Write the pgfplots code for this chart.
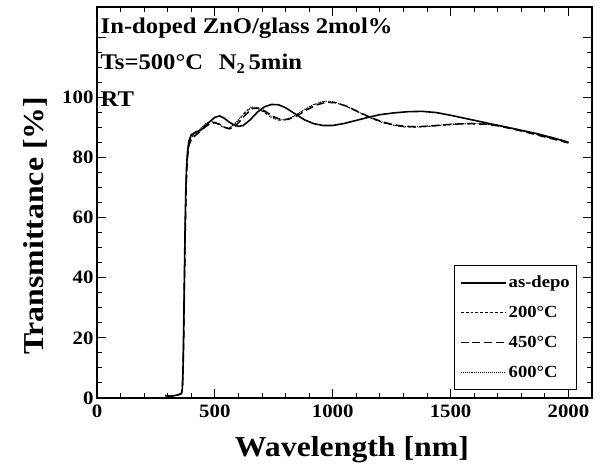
\documentclass[border=0pt]{standalone}
\usepackage{pgfplots}
\pgfplotsset{compat=1.18}
\usepackage{fontspec}
\setmainfont{Liberation Serif}[FakeStretch=1.1]
\begin{document}
\begin{tikzpicture}
\begin{axis}[
  at={(0,0)}, anchor=south west,
  scale only axis, width=495bp, height=391bp,
  xmin=0, xmax=2100, ymin=0, ymax=130,
  xtick={0,500,1000,1500,2000},
  minor x tick num=4,
  ytick={0,20,40,60,80,100,120},
  yticklabels={0,20,40,60,80,100,{}},
  minor y tick num=3,
  tick align=inside,
  major tick length=9bp, minor tick length=5bp,
  axis line style={line width=1.2pt},
  every tick/.style={line width=1pt, black},
  /pgf/number format/assume math mode=true,
  /pgf/number format/set thousands separator={},
  tick label style={font=\bfseries\fontsize{19}{19}\selectfont},
  xticklabel style={yshift=-3bp},
  xlabel={\bfseries\fontsize{29}{29}\selectfont Wavelength [nm]},
  ylabel={\bfseries\fontsize{29}{29}\selectfont Transmittance [\%]},
  xlabel style={at={(rel axis cs:0.515,0)}, anchor=center, yshift=-52bp},
  ylabel style={at={(rel axis cs:0,0.44)}, anchor=center, yshift=62bp},
  clip=false,
  legend style={at={(rel axis cs:0.970,0.0205)}, anchor=south east,
    draw=black, line width=0.8pt, font=\bfseries\fontsize{17}{17}\selectfont,
    inner xsep=5bp, inner ysep=9bp, row sep=13bp, text depth=0pt},
  legend cell align=left,
  legend image code/.code={\draw[#1] (0cm,0cm) -- (1.6cm,0cm);},
]
\addplot[black, line width=1.6pt] coordinates {
(290,0.8)(310,0.6)(330,0.8)(350,1.2)(358,1.5)(362,3)(365,10)(368,25)(371,42)(374,58)(377,70)(380,77)(384,82)(390,85.5)(400,87.5)(420,88.5)(440,89)(460,90.5)(480,92)(500,93.3)(520,93.8)(540,93)(560,91.8)(580,90.8)(600,90.3)(620,90.6)(650,92.5)(680,95)(710,96.8)(740,97.6)(770,97.5)(800,96.5)(840,94.5)(880,92.5)(920,91.2)(960,90.6)(1000,90.6)(1050,91.3)(1100,92.3)(1150,93.3)(1200,94.2)(1260,94.8)(1320,95.2)(1380,95.3)(1440,94.9)(1500,94)(1560,93)(1620,92)(1680,91)(1740,90)(1800,89)(1860,88)(1920,86.8)(1980,85.5)(2000,85)
};
\addlegendentry{as-depo}
\addplot[black, line width=0.6pt, dash pattern=on 3pt off 2pt] coordinates {
(290,0.8)(310,0.6)(330,0.8)(350,1.2)(358,1.5)(362,3)(365,9)(368,22)(371,40)(374,56)(377,68)(380,76)(384,81)(390,84.5)(400,86.5)(420,88)(440,89.5)(460,91)(480,91.8)(500,91.6)(520,90.7)(540,89.8)(560,89.6)(580,90.6)(600,92.3)(630,95)(655,96.5)(680,96.3)(710,94.8)(740,93.2)(770,92.3)(800,92.4)(840,93.8)(880,95.8)(920,97.5)(960,98.5)(1000,98.4)(1050,97.2)(1100,95.3)(1150,93.4)(1200,91.8)(1250,90.7)(1300,90.1)(1350,90)(1400,90.2)(1460,90.6)(1520,91)(1580,91.2)(1640,91.1)(1700,90.6)(1760,89.6)(1820,88.5)(1880,87.3)(1940,86.1)(2000,85)
};
\addlegendentry{200°C}
\addplot[black, line width=1.5pt, dash pattern=on 8pt off 4pt] coordinates {
(290,0.8)(310,0.6)(330,0.8)(350,1.2)(358,1.5)(362,3)(365,8)(368,20)(371,37)(374,53)(377,66)(380,74)(384,80)(390,84)(400,86)(420,87.5)(440,88.8)(460,90.2)(480,91.2)(500,91.5)(520,91)(540,90.1)(560,89.5)(580,90)(600,91.5)(630,94.2)(660,96.3)(690,96.4)(720,95)(750,93.5)(780,92.6)(810,92.6)(850,93.9)(890,95.8)(930,97.4)(970,98.3)(1010,98.2)(1060,97)(1110,95.1)(1160,93.3)(1210,91.8)(1260,90.8)(1310,90.3)(1360,90.2)(1410,90.4)(1470,90.8)(1530,91.1)(1590,91.2)(1650,91)(1700,90.5)(1760,89.5)(1820,88.4)(1880,87.2)(1940,86)(2000,84.8)
};
\addlegendentry{450°C}
\addplot[black, line width=0.7pt, dash pattern=on 1pt off 1pt] coordinates {
(290,0.8)(310,0.6)(330,0.8)(350,1.2)(358,1.5)(362,3)(365,9)(368,23)(371,41)(374,57)(377,69)(380,76.5)(384,81.5)(390,85)(400,87)(420,88.3)(440,89.7)(460,91.2)(480,92)(500,91.8)(520,90.9)(540,90)(560,89.8)(580,90.9)(600,92.6)(630,95.3)(655,96.8)(680,96.6)(710,95.1)(740,93.5)(770,92.6)(800,92.6)(840,94)(880,96)(920,97.7)(960,98.7)(1000,98.6)(1050,97.4)(1100,95.5)(1150,93.6)(1200,92)(1250,90.9)(1300,90.3)(1350,90.2)(1400,90.4)(1460,90.8)(1520,91.2)(1580,91.4)(1640,91.3)(1700,90.8)(1760,89.8)(1820,88.7)(1880,87.5)(1940,86.3)(2000,85.2)
};
\addlegendentry{600°C}
\node[anchor=base west, font=\bfseries\fontsize{22.5}{22.5}\selectfont, inner sep=0pt] at (axis cs:15,121.3) {In-doped ZnO/glass 2mol\%};
\node[anchor=base west, font=\bfseries\fontsize{22.5}{22.5}\selectfont, inner sep=0pt] at (axis cs:15,109.3) {Ts=500°C\hspace{0.7em}N\raisebox{-0.45ex}{\fontsize{15}{15}\selectfont 2}\,5min};
\node[anchor=base west, font=\bfseries\fontsize{22.5}{22.5}\selectfont, inner sep=0pt] at (axis cs:15,97) {RT};
\end{axis}
\useasboundingbox (-97bp,-73bp) rectangle (506bp,398bp);
\end{tikzpicture}
\end{document}
